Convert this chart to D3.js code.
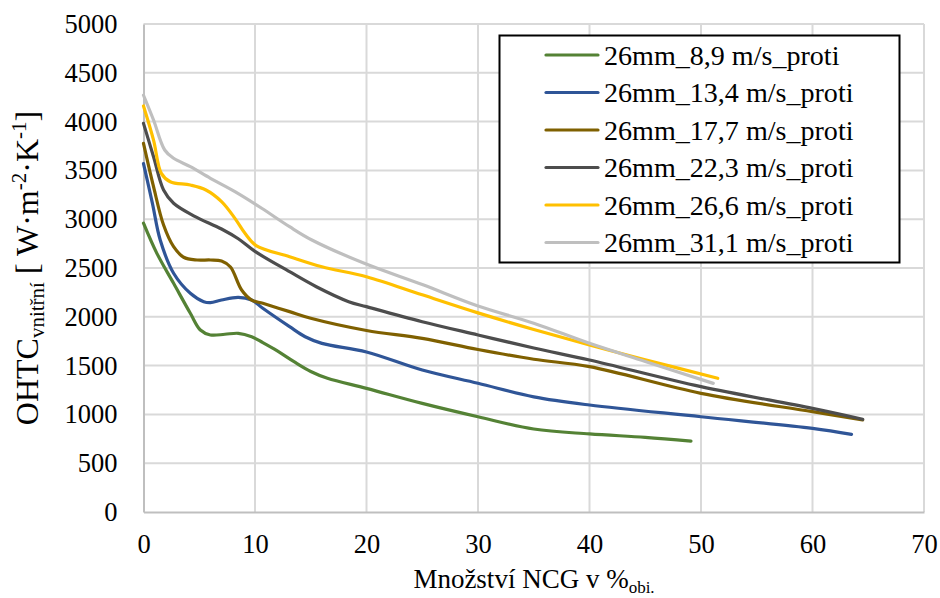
<!DOCTYPE html>
<html>
<head>
<meta charset="utf-8">
<script src="https://cdn.jsdelivr.net/npm/d3@7"></script>
<style>
  html, body { margin: 0; padding: 0; background: #fff; }
  svg { display: block; }
  text { font-family: "Liberation Serif", "Times New Roman", serif; fill: #000; }
</style>
</head>
<body>
<svg id="chart" width="940" height="598"></svg>
<script>
// ---- data ----
const seriesNames = ["26mm_8,9 m/s_proti", "26mm_13,4 m/s_proti", "26mm_17,7 m/s_proti",
                     "26mm_22,3 m/s_proti", "26mm_26,6 m/s_proti", "26mm_31,1 m/s_proti"];
const xTicks = [0, 10, 20, 30, 40, 50, 60, 70];
const yTicks = [0, 500, 1000, 1500, 2000, 2500, 3000, 3500, 4000, 4500, 5000];

const s8_9 = [[0,2960],[1.2,2650],[2.7,2343],[4.2,2036],[5.1,1865],[6,1814],[7.3,1821],[8.5,1831],
  [9.7,1796],[10.7,1735],[12,1650],[13.5,1540],[15,1440],[16.5,1370],[20,1267],[25,1113],[30,976],
  [35,850],[40,800],[45,765],[49.1,727]];
const s13_4 = [[0,3570],[0.8,3163],[1.5,2787],[2.7,2446],[4.2,2241],[5.4,2155],[6,2145],[7,2172],
  [8.5,2200],[9.7,2172],[10.7,2087],[13.1,1899],[14.5,1796],[16,1728],[20,1640],[25,1455],[30,1319],
  [35,1180],[40,1096],[50,976],[60,857],[63.5,796]];
const s17_7 = [[0,3777],[0.9,3333],[1.8,2940],[2.7,2718],[3.6,2610],[4.8,2582],[6,2582],[7,2572],
  [7.8,2510],[8.8,2275],[9.7,2172],[10.7,2138],[13.1,2053],[15,1985],[20,1860],[25,1779],[30,1665],
  [35,1565],[40,1489],[50,1216],[60,1028],[64.5,943]];
const s22_3 = [[0,3982],[0.9,3640],[1.8,3299],[2.7,3163],[4.5,3035],[7,2900],[8.5,2800],
  [10,2670],[13.1,2462],[15.5,2308],[18.4,2155],[20,2104],[25,1950],[30,1814],
  [35,1680],[40,1557],[50,1284],[60,1062],[64.5,950]];
const s26_6 = [[0,4160],[0.9,3811],[1.6,3470],[2.4,3384],[4.2,3350],[5.6,3299],[7,3180],[8.2,3009],
  [9.1,2855],[10.1,2730],[13.1,2616],[16,2513],[20,2411],[25,2225],[30,2040],
  [35,1870],[40,1711],[45,1560],[51.5,1370]];
const s31_1 = [[0,4270],[0.9,4016],[1.9,3709],[2.7,3624],[4.2,3538],[6,3419],[8.2,3282],[10.6,3112],
  [13.1,2923],[15.1,2787],[19.8,2548],[25,2330],[30,2110],[35,1935],[40,1728],
  [45,1543],[51.1,1318]];

const seriesData = [s8_9, s13_4, s17_7, s22_3, s26_6, s31_1];
const colors = ["#548235", "#2f5597", "#7f6000", "#4d4d4d", "#ffc000", "#bfbfbf"];

// ---- layout ----
const svg = d3.select("#chart");
const pLeft = 143.5, pRight = 924, pTop = 24, pBottom = 512;

const x = d3.scaleLinear().domain([0, 70]).range([pLeft, pRight]);
const y = d3.scaleLinear().domain([0, 5000]).range([pBottom, pTop]);

// gridlines
const grid = svg.append("g");
grid.selectAll("line.h").data(yTicks.filter(d => d > 0)).join("line")
  .attr("x1", pLeft).attr("x2", pRight)
  .attr("y1", d => y(d)).attr("y2", d => y(d))
  .attr("stroke", "#d9d9d9").attr("stroke-width", 2);
grid.selectAll("line.v").data(xTicks.filter(d => d > 0)).join("line")
  .attr("x1", d => x(d)).attr("x2", d => x(d))
  .attr("y1", pTop).attr("y2", pBottom)
  .attr("stroke", "#d9d9d9").attr("stroke-width", 2);

// axes
const yAxis = svg.append("g").attr("transform", `translate(${pLeft},0)`)
  .call(d3.axisLeft(y).tickValues(yTicks).tickSize(0).tickPadding(26).tickFormat(d3.format("d")));
yAxis.attr("font-family", null);
yAxis.select(".domain").attr("stroke", "#bfbfbf").attr("stroke-width", 2);
yAxis.selectAll("text").style("font-size", "26.5px").style("font-family", "'Liberation Serif', serif").attr("fill", "#000");

const xAxis = svg.append("g").attr("transform", `translate(0,${pBottom})`)
  .call(d3.axisBottom(x).tickValues(xTicks).tickSize(0).tickPadding(22).tickFormat(d3.format("d")));
xAxis.attr("font-family", null);
xAxis.select(".domain").attr("stroke", "#bfbfbf").attr("stroke-width", 2);
xAxis.selectAll("text").style("font-size", "26.5px").style("font-family", "'Liberation Serif', serif").attr("fill", "#000");

// lines
const line = d3.line().x(d => x(d[0])).y(d => y(d[1])).curve(d3.curveCatmullRom.alpha(0.5));
svg.append("g").selectAll("path").data(seriesData).join("path")
  .attr("d", line)
  .attr("fill", "none")
  .attr("stroke", (d, i) => colors[i])
  .attr("stroke-width", 3.2)
  .attr("stroke-linecap", "round")
  .attr("stroke-linejoin", "round");

// x-axis title
const xt = svg.append("text").attr("x", 534).attr("y", 588).attr("text-anchor", "middle")
  .style("font-size", "27px");
xt.append("tspan").text("Množství NCG v %");
xt.append("tspan").attr("dy", 5).style("font-size", "17px").text("obi.");

// y-axis title
const yt = svg.append("text").attr("transform", "translate(38,268) rotate(-90)")
  .attr("text-anchor", "middle").style("font-size", "32px");
yt.append("tspan").text("OHTC");
yt.append("tspan").attr("dy", 6).style("font-size", "21px").text("vnitřní");
yt.append("tspan").attr("dy", -6).text(" [ W·m");
yt.append("tspan").attr("dy", -12).style("font-size", "21px").text("-2");
yt.append("tspan").attr("dy", 12).text("·K");
yt.append("tspan").attr("dy", -12).style("font-size", "21px").text("-1");
yt.append("tspan").attr("dy", 12).text("]");

// legend
const lg = svg.append("g");
lg.append("rect").attr("x", 499.5).attr("y", 35.5).attr("width", 400).attr("height", 227)
  .attr("fill", "#fff").attr("stroke", "#000").attr("stroke-width", 2);
const rowY = d3.scaleLinear().domain([0, 5]).range([55, 242.5]);
const items = lg.selectAll("g.item").data(seriesNames).join("g")
  .attr("transform", (d, i) => `translate(0,${rowY(i)})`);
items.append("line").attr("x1", 546).attr("x2", 598).attr("y1", 0).attr("y2", 0)
  .attr("stroke", (d, i) => colors[i]).attr("stroke-width", 3.2).attr("stroke-linecap", "round");
items.append("text").attr("transform", "translate(604,9.5) scale(1.04,1)")
  .style("font-size", "27px").text(d => d);
</script>
</body>
</html>
